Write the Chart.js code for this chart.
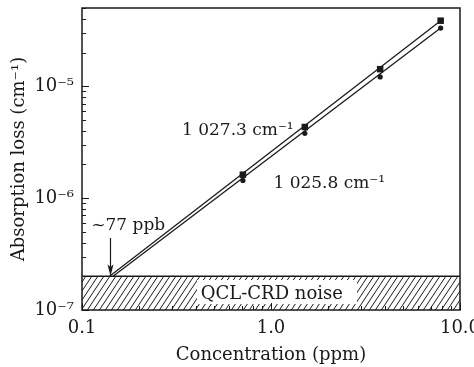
<!DOCTYPE html>
<html>
<head>
<meta charset="utf-8">
<script src="https://cdn.jsdelivr.net/npm/chart.js@4.4.0/dist/chart.umd.min.js"></script>
<style>
  html, body { margin: 0; padding: 0; background: #fff; }
</style>
</head>
<body>
<canvas id="chart" width="474" height="367"></canvas>
<script>
// measured points (ppm vs cm^-1)
const concentration = [0.71, 1.51, 3.78, 7.9];
const loss1027 = [1.62e-6, 4.32e-6, 1.42e-5, 3.85e-5];
const loss1025 = [1.44e-6, 3.79e-6, 1.21e-5, 3.31e-5];

// linear fits, starting at the noise floor
const fitX1027 = [0.14, 7.9];
const fitY1027 = [2e-7, 3.85e-5];
const fitX1025 = [0.146, 7.9];
const fitY1025 = [2e-7, 3.31e-5];

// QCL-CRD noise floor and detection limit (~77 ppb)
const noiseX = [0.1, 10];
const noiseY = [2e-7, 2e-7];
const detectionLimit = 0.14;

// tick labels
const xTicks = [0.1, 1, 10];
const xTickLabels = ['0.1', '1.0', '10.0'];
const yTicks = [1e-7, 1e-6, 1e-5];
const yTickLabels = ['10⁻⁷', '10⁻⁶', '10⁻⁵'];

const ink = '#1a1a1a';
const serif = "'DejaVu Serif', serif";
const font = { family: serif, size: 18 };

const pts = (xs, ys) => xs.map((x, i) => ({ x: x, y: ys[i] }));
const findTick = (list, v) => list.findIndex(t => Math.abs(Math.log10(v / t)) < 1e-6);
const isMajor = v => Math.abs(Math.log10(v) - Math.round(Math.log10(v))) < 1e-6;

// 1..9 per decade, so the minor ticks can be drawn too
function logTicks(scale) {
    const out = [];
    const lo = Math.floor(Math.log10(scale.min)), hi = Math.ceil(Math.log10(scale.max));
    for (let e = lo; e <= hi; e++) {
        for (let m = 1; m <= 9; m++) {
            const v = m * Math.pow(10, e);
            if (v >= scale.min * 0.999 && v <= scale.max * 1.001) out.push({ value: v });
        }
    }
    scale.ticks = out;
}

// hatch for the noise band
const canvas = document.getElementById('chart');
const tile = document.createElement('canvas');
tile.width = 6;
tile.height = 9;
const tc = tile.getContext('2d');
tc.strokeStyle = ink;
tc.lineWidth = 1;
tc.beginPath();
tc.moveTo(-0.67, 10); tc.lineTo(6.67, -1);
tc.moveTo(-6.67, 10); tc.lineTo(0.67, -1);
tc.moveTo(5.33, 10); tc.lineTo(12.67, -1);
tc.stroke();
const hatch = canvas.getContext('2d').createPattern(tile, 'repeat');

// frame, inward ticks and text labels
const decorations = {
    id: 'decorations',
    afterDatasetsDraw(chart) {
        const { ctx, chartArea: a, scales: { x, y } } = chart;
        ctx.save();
        ctx.strokeStyle = ink;

        // white box behind the noise label
        ctx.fillStyle = '#fff';
        ctx.fillRect(197, 280, 160, 24);
        ctx.fillStyle = ink;

        ctx.lineWidth = 1;
        ctx.beginPath();
        x.ticks.forEach(t => {
            const px = Math.round(x.getPixelForValue(t.value)) + 0.5;
            ctx.moveTo(px, a.bottom);
            ctx.lineTo(px, a.bottom - (isMajor(t.value) ? 7 : 4));
        });
        y.ticks.forEach(t => {
            const py = Math.round(y.getPixelForValue(t.value)) + 0.5;
            ctx.moveTo(a.left, py);
            ctx.lineTo(a.left + (isMajor(t.value) ? 7 : 4), py);
        });
        ctx.stroke();

        ctx.lineWidth = 1.5;
        ctx.strokeRect(a.left, a.top, a.right - a.left, a.bottom - a.top);

        ctx.font = '17px ' + serif;
        ctx.textBaseline = 'alphabetic';
        ctx.textAlign = 'left';
        ctx.fillText('1 027.3 cm⁻¹', x.getPixelForValue(0.338), y.getPixelForValue(3.7e-6));
        ctx.fillText('1 025.8 cm⁻¹', x.getPixelForValue(1.03), y.getPixelForValue(1.22e-6));
        ctx.fillText('~77 ppb', x.getPixelForValue(0.112), y.getPixelForValue(5.2e-7));
        ctx.font = '18px ' + serif;
        ctx.textAlign = 'center';
        ctx.fillText('QCL-CRD noise', x.getPixelForValue(1.01), 299);

        // arrow to the detection limit
        const ax = Math.round(x.getPixelForValue(detectionLimit)) + 0.5;
        const ayTop = y.getPixelForValue(4.4e-7);
        const ayEnd = y.getPixelForValue(noiseY[0]);
        ctx.lineWidth = 1.2;
        ctx.beginPath();
        ctx.moveTo(ax, ayTop);
        ctx.lineTo(ax, ayEnd - 6);
        ctx.stroke();
        ctx.beginPath();
        ctx.moveTo(ax, ayEnd);
        ctx.lineTo(ax - 3, ayEnd - 12);
        ctx.lineTo(ax, ayEnd - 9);
        ctx.lineTo(ax + 3, ayEnd - 12);
        ctx.closePath();
        ctx.fill();
        ctx.restore();
    }
};

new Chart(canvas, {
    type: 'scatter',
    data: {
        datasets: [
            {
                label: 'fit 1027.3',
                data: pts(fitX1027, fitY1027),
                showLine: true,
                borderColor: ink,
                borderWidth: 1.3,
                pointRadius: 0
            },
            {
                label: 'fit 1025.8',
                data: pts(fitX1025, fitY1025),
                showLine: true,
                borderColor: ink,
                borderWidth: 1.3,
                pointRadius: 0
            },
            {
                label: '1 027.3 cm⁻¹',
                data: pts(concentration, loss1027),
                pointStyle: 'rect',
                pointRadius: 4.6,
                backgroundColor: ink,
                borderWidth: 0
            },
            {
                label: '1 025.8 cm⁻¹',
                data: pts(concentration, loss1025),
                pointStyle: 'circle',
                pointRadius: 2.6,
                backgroundColor: ink,
                borderWidth: 0
            },
            {
                label: 'QCL-CRD noise',
                data: pts(noiseX, noiseY),
                showLine: true,
                fill: 'start',
                backgroundColor: hatch,
                borderColor: ink,
                borderWidth: 1.5,
                pointRadius: 0,
                order: 5
            }
        ]
    },
    options: {
        responsive: false,
        animation: false,
        devicePixelRatio: 1,
        layout: { padding: { top: 8, right: 14, left: 0, bottom: 0 } },
        plugins: { legend: { display: false }, tooltip: { enabled: false } },
        scales: {
            x: {
                type: 'logarithmic',
                min: 0.1,
                max: 10,
                grid: { display: false, drawTicks: false },
                border: { display: false },
                afterBuildTicks: logTicks,
                afterFit(s) { s.height = 57; s.paddingLeft = 0; s.paddingRight = 0; },
                ticks: {
                    autoSkip: false,
                    maxRotation: 0,
                    padding: 8,
                    color: ink,
                    font: font,
                    callback(v) { const i = findTick(xTicks, v); return i >= 0 ? xTickLabels[i] : ''; }
                },
                title: { display: true, text: 'Concentration (ppm)', color: ink, font: font, padding: { top: 0, bottom: 1 } }
            },
            y: {
                type: 'logarithmic',
                min: 1e-7,
                max: 5e-5,
                grid: { display: false, drawTicks: false },
                border: { display: false },
                afterBuildTicks: logTicks,
                afterFit(s) { s.width = 82; s.paddingTop = 0; s.paddingBottom = 0; },
                ticks: {
                    autoSkip: false,
                    padding: 8,
                    color: ink,
                    font: font,
                    callback(v) { const i = findTick(yTicks, v); return i >= 0 ? yTickLabels[i] : ''; }
                },
                title: { display: true, text: 'Absorption loss (cm⁻¹)', color: ink, font: font, padding: { top: 9, bottom: 0 } }
            }
        }
    },
    plugins: [decorations]
});
</script>
</body>
</html>
